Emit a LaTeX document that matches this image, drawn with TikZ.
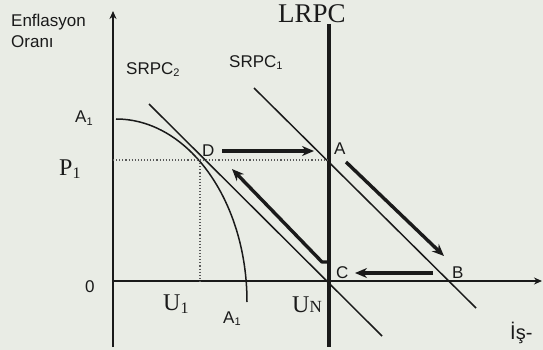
\documentclass[tikz,border=0pt]{standalone}
\usepackage{fontspec}
\setmainfont{Liberation Serif}
\setsansfont{Liberation Sans}
\usetikzlibrary{arrows.meta}
\definecolor{bg}{HTML}{E9ECE5}
\definecolor{ink}{HTML}{1A1A1A}
\begin{document}
\begin{tikzpicture}[x=1pt,y=-1pt,
  lab/.style={font=\sffamily\fontsize{17}{17}\selectfont, inner sep=0pt, text=ink},
  big/.style={font=\fontsize{24}{24}\selectfont, inner sep=0pt, text=ink},
  curveline/.style={line width=1.5pt, draw=ink},
  guide/.style={line width=1.1pt, draw=gray!70!black, dotted},
  movearrow/.style={line width=3.4pt, draw=ink, -{Stealth[length=12pt,width=10pt]}},
  axisline/.style={line width=1.5pt, draw=ink, -{Stealth[length=8pt,width=7pt]}}]
\fill[bg] (0,0) rectangle (543,350);
\useasboundingbox (0,0) rectangle (543,350);
% points
\coordinate (O) at (113,281);
\coordinate (ytop) at (113,11);
\coordinate (ybot) at (113,347);
\coordinate (xend) at (542,281);
\coordinate (Ltop) at (329,24);
\coordinate (Lbot) at (329,347);
\coordinate (S1a) at (254,88);
\coordinate (S1b) at (476,308);
\coordinate (S2a) at (149,104);
\coordinate (S2b) at (382,336);
\coordinate (Apt) at (329,160);
\coordinate (Dpt) at (200,160);
\coordinate (Dx) at (200,281);
\coordinate (Py) at (113,160);
\coordinate (Atop) at (116,119);
% axes
\draw[axisline] (ybot) -- (ytop);
\draw[axisline] (O) -- (xend);
% LRPC
\draw[line width=3.2pt, draw=ink] (Ltop) -- (Lbot);
% SRPC lines
\draw[curveline] (S1a) -- (S1b);
\draw[curveline] (S2a) -- (S2b);
% A1 curve
\draw[curveline] (Atop) arc[start angle=270, end angle=360, x radius=131, y radius=183];
% dotted guides
\draw[guide] (Py) -- (Apt);
\draw[guide] (Dpt) -- (Dx);
% movement arrows
\coordinate (m1s) at (222,151); \coordinate (m1e) at (314,151);
\coordinate (m2s) at (346,162); \coordinate (m2e) at (444,256);
\coordinate (m3s) at (433,273); \coordinate (m3e) at (355,273);
\coordinate (m4s) at (328,262); \coordinate (m4k) at (322,262); \coordinate (m4e) at (232,169);
\draw[movearrow] (m1s) -- (m1e);
\draw[movearrow] (m2s) -- (m2e);
\draw[movearrow] (m3s) -- (m3e);
\draw[movearrow, line join=round] (m4s) -- (m4k) -- (m4e);
% labels
\node[lab, anchor=base west] (enf) at (11,27) {Enflasyon};
\node[lab, anchor=base west] (ora) at (11,48) {Oranı};
\node[lab, anchor=base west] (s2) at (126,75) {SRPC\raisebox{-2pt}{\fontsize{11}{11}\selectfont 2}};
\node[lab, anchor=base west] (s1) at (229,68) {SRPC\raisebox{-2pt}{\fontsize{11}{11}\selectfont 1}};
\node[big, anchor=base west, font=\fontsize{27}{27}\selectfont] (lrpc) at (278,23) {LRPC};
\node[lab, anchor=base west] (a1t) at (75,123) {A\raisebox{-2pt}{\fontsize{11}{11}\selectfont 1}};
\node[lab, anchor=base west] (a1b) at (223,323) {A\raisebox{-2pt}{\fontsize{11}{11}\selectfont 1}};
\node[big, anchor=base west] (p1) at (59,175) {P\raisebox{-3pt}{\fontsize{16}{16}\selectfont 1}};
\node[big, anchor=base west] (u1) at (163,310) {U\raisebox{-3pt}{\fontsize{16}{16}\selectfont 1}};
\node[big, anchor=base west] (un) at (292,312) {U\fontsize{17}{17}\selectfont N};
\node[lab, anchor=base west] (zero) at (85,292) {0};
\node[lab, anchor=base west] (lD) at (202,156) {D};
\node[lab, anchor=base west] (lA) at (334,154) {A};
\node[lab, anchor=base west] (lB) at (452,278) {B};
\node[lab, anchor=base west] (lC) at (336,278) {C};
\node[lab, anchor=base west, font=\sffamily\fontsize{20}{20}\selectfont] (is) at (510,339) {İş-};
\end{tikzpicture}
\end{document}
